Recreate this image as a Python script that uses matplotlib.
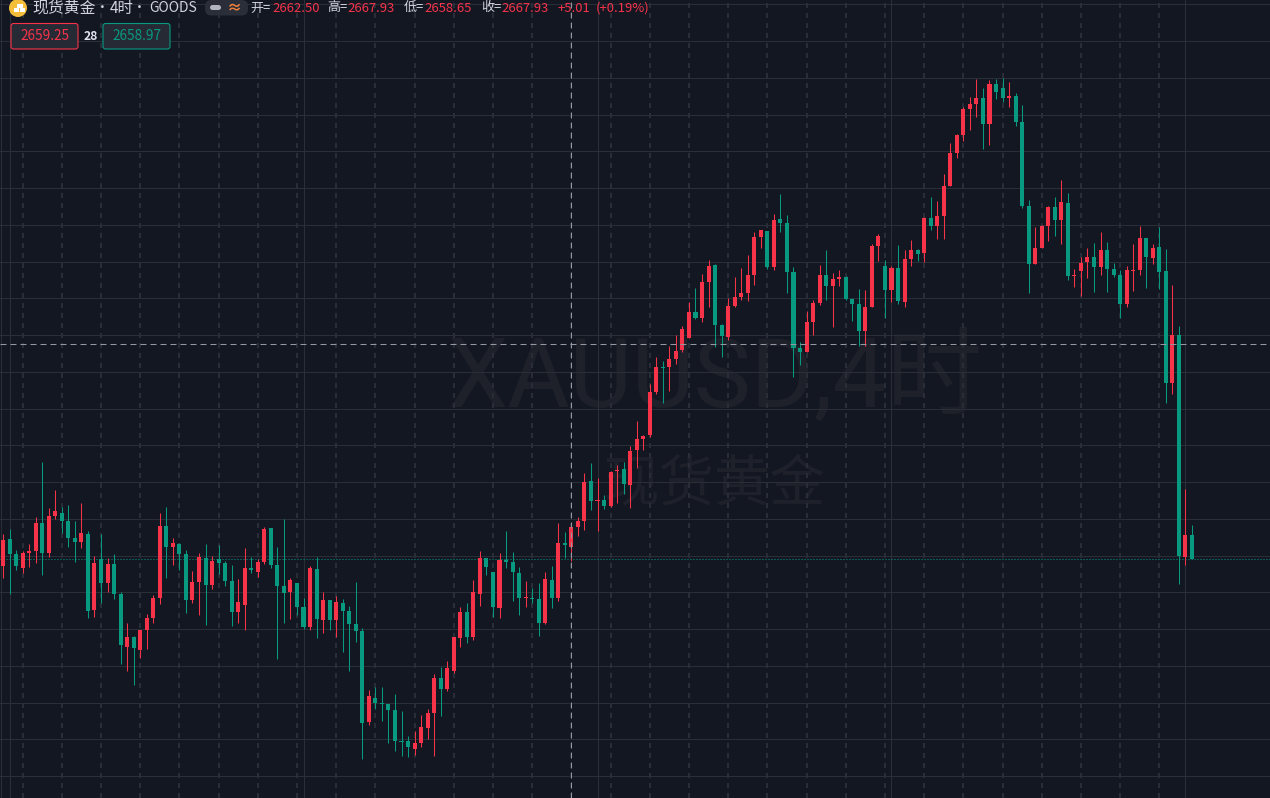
import matplotlib
matplotlib.use('Agg')
import matplotlib.pyplot as plt
from matplotlib.patches import Ellipse, FancyBboxPatch, Rectangle
import numpy as np

plt.rcParams['font.family'] = ['Noto Sans CJK SC', 'DejaVu Sans']
plt.rcParams['lines.scale_dashes'] = False

opens = [2657.1,2664.6,2660.5,2656.7,2660.8,2661.3,2668.9,2660.8,2670.8,2671.7,
         2669.5,2664.9,2663.8,2665.9,2645.3,2659.0,2652.6,2657.8,2649.6,2635.2,
         2637.9,2634.4,2639.8,2643.1,2648.5,2668.1,2662.4,2663.2,2660.5,2648.0,
         2652.9,2659.4,2652.1,2659.1,2658.1,2653.2,2644.7,2646.6,2656.7,2655.6,
         2658.3,2667.6,2657.5,2651.8,2650.2,2652.6,2646.0,2640.6,2656.4,2642.5,
         2648.0,2642.5,2647.1,2645.0,2641.4,2639.5,2614.8,2621.3,2619.9,2619.7,
         2618.0,2609.6,2609.6,2607.4,2609.0,2613.1,2617.2,2626.7,2623.7,2628.6,
         2637.6,2644.7,2637.9,2649.6,2659.4,2655.6,2645.8,2658.8,2658.3,2655.3,
         2648.5,2648.5,2648.2,2641.7,2653.4,2648.5,2663.5,2662.5,2667.9,2669.4,
         2680.3,2674.9,2675.2,2673.5,2683.0,2683.6,2679.2,2688.8,2691.8,2692.8,
         2704.5,2711.3,2711.3,2713.5,2716.0,2719.2,2726.3,2724.7,2734.5,2739.1,
         2722.8,2719.5,2727.9,2730.4,2731.5,2736.4,2746.7,2748.4,2738.6,2751.6,
         2750.5,2737.2,2716.5,2715.4,2723.6,2728.8,2736.4,2733.4,2735.3,2735.8,
         2729.9,2728.5,2721.1,2727.7,2744.3,2738.8,2732.3,2738.3,2729.0,2740.7,
         2743.2,2742.4,2751.9,2749.7,2752.4,2760.6,2769.6,2774.5,2781.6,2782.9,
         2784.5,2777.5,2788.4,2787.3,2784.5,2785.1,2778.0,2755.2,2739.4,2743.7,
         2749.7,2754.9,2751.3,2756.0,2736.1,2737.5,2739.9,2741.3,2738.6,2743.2,
         2738.0,2736.4,2728.5,2737.5,2737.7,2746.4,2741.0,2744.0,2737.5,2707.0,
         2720.1,2659.7,2665.6]
highs = [2665.9,2667.3,2661.6,2661.3,2663.2,2670.6,2685.5,2673.0,2677.9,2673.3,
         2673.8,2669.5,2674.4,2666.8,2660.0,2665.9,2659.4,2660.5,2650.2,2641.7,
         2638.2,2639.8,2644.2,2649.3,2671.7,2673.3,2664.9,2663.5,2661.6,2655.9,
         2660.8,2663.2,2660.0,2663.0,2658.6,2657.5,2653.7,2662.1,2659.7,2659.1,
         2667.8,2667.6,2662.4,2670.0,2654.0,2652.6,2648.5,2657.2,2659.6,2650.1,
         2648.0,2649.0,2648.2,2646.3,2652.8,2640.3,2623.5,2624.3,2624.3,2619.7,
         2622.4,2617.8,2610.9,2612.3,2616.7,2618.3,2627.8,2629.7,2631.4,2637.9,
         2646.1,2647.1,2653.4,2661.3,2659.4,2655.6,2660.7,2666.7,2661.0,2656.9,
         2653.1,2651.2,2652.6,2655.6,2657.2,2668.9,2666.5,2667.93,2670.5,2682.5,
         2685.2,2681.1,2676.5,2683.0,2684.7,2685.5,2689.9,2696.7,2692.8,2706.7,
         2714.1,2713.0,2717.1,2720.1,2722.5,2729.0,2732.8,2736.7,2740.5,2739.4,
         2723.1,2730.1,2735.8,2738.3,2741.8,2748.1,2748.6,2748.4,2753.0,2758.4,
         2752.7,2738.6,2718.2,2726.6,2729.6,2739.1,2743.2,2736.9,2737.7,2736.1,
         2730.1,2732.6,2732.3,2744.8,2747.5,2740.5,2738.8,2744.5,2743.2,2745.9,
         2743.5,2752.2,2757.6,2756.5,2763.9,2772.3,2774.8,2782.1,2784.8,2789.7,
         2787.3,2789.4,2789.7,2790.0,2788.9,2785.9,2782.6,2756.8,2749.4,2750.0,
         2755.2,2757.6,2762.2,2758.7,2738.0,2741.3,2743.7,2745.1,2748.1,2745.4,
         2739.6,2737.7,2738.8,2744.8,2749.7,2746.4,2744.8,2749.4,2743.5,2733.7,
         2722.5,2678.2,2668.4]
lows = [2654.0,2649.6,2656.1,2655.3,2657.0,2658.1,2654.8,2659.7,2670.0,2666.2,
        2662.4,2658.3,2662.1,2643.1,2643.4,2647.2,2650.2,2648.3,2630.6,2628.7,
        2624.9,2632.2,2634.7,2641.7,2646.9,2654.0,2657.5,2656.1,2644.4,2647.2,
        2643.9,2641.2,2651.0,2655.1,2651.8,2640.9,2641.7,2639.8,2655.3,2654.2,
        2657.8,2656.7,2631.9,2641.7,2642.8,2643.9,2640.1,2639.8,2637.6,2639.0,
        2639.8,2637.9,2633.8,2628.6,2636.5,2604.7,2613.9,2618.3,2615.0,2609.0,
        2606.9,2605.5,2605.2,2605.8,2608.0,2610.1,2605.5,2616.4,2623.2,2628.1,
        2635.2,2636.3,2637.1,2646.3,2654.8,2643.3,2643.1,2656.7,2647.7,2643.9,
        2646.0,2647.1,2638.2,2641.4,2645.8,2647.7,2659.4,2658.65,2665.4,2667.0,
        2672.4,2666.7,2672.7,2673.2,2674.3,2676.8,2673.0,2683.9,2688.8,2692.3,
        2704.0,2701.6,2704.8,2712.2,2715.4,2719.2,2724.4,2723.6,2727.7,2716.8,
        2714.1,2718.7,2727.7,2729.6,2729.3,2733.7,2743.7,2738.0,2737.7,2748.1,
        2731.5,2708.6,2711.9,2715.4,2720.1,2728.2,2729.6,2722.2,2733.4,2729.6,
        2723.9,2717.1,2717.1,2727.7,2740.2,2724.7,2729.0,2728.5,2727.7,2738.8,
        2740.2,2739.9,2748.6,2746.2,2746.2,2760.6,2768.2,2772.8,2775.8,2779.4,
        2770.7,2771.8,2784.3,2783.5,2782.1,2776.9,2754.6,2731.5,2739.4,2743.7,
        2745.6,2747.0,2744.8,2735.0,2733.1,2730.7,2735.6,2731.8,2736.4,2731.8,
        2735.8,2724.7,2727.7,2732.0,2736.4,2732.8,2739.4,2732.6,2701.6,2704.0,
        2652.3,2657.5,2658.97]
closes = [2664.3,2660.5,2657.2,2660.8,2661.3,2668.9,2660.8,2670.8,2672.2,2669.5,
          2664.9,2663.8,2666.2,2645.0,2658.1,2652.6,2657.8,2649.6,2635.7,2637.9,
          2634.9,2639.8,2643.1,2648.5,2668.1,2662.4,2663.5,2660.5,2648.0,2652.9,
          2659.7,2652.1,2658.6,2658.1,2653.2,2644.7,2647.4,2656.7,2656.1,2658.3,
          2667.3,2657.5,2651.8,2649.9,2653.4,2646.1,2640.6,2656.7,2642.8,2648.0,
          2642.5,2647.4,2645.0,2641.4,2639.5,2614.5,2621.8,2619.9,2619.7,2618.0,
          2609.6,2609.3,2608.0,2609.0,2613.4,2617.2,2626.7,2623.7,2629.4,2637.9,
          2644.7,2637.9,2650.1,2659.4,2656.9,2646.0,2658.8,2658.3,2655.6,2648.5,
          2648.8,2648.2,2641.7,2653.7,2648.5,2663.5,2662.9,2667.93,2669.5,2680.0,
          2674.9,2675.2,2673.5,2682.8,2683.3,2679.5,2688.5,2691.8,2692.6,2704.5,
          2711.3,2711.1,2713.5,2715.7,2721.7,2726.3,2724.7,2734.5,2738.8,2722.8,
          2719.8,2727.9,2730.4,2731.5,2736.4,2746.7,2748.6,2738.6,2751.3,2750.5,
          2737.2,2716.5,2715.4,2723.6,2728.8,2736.4,2733.4,2735.3,2735.8,2729.9,
          2728.5,2721.1,2727.7,2744.3,2747.0,2732.3,2738.3,2729.3,2740.7,2743.2,
          2742.1,2751.9,2749.7,2752.4,2760.6,2769.6,2774.5,2781.6,2782.9,2784.5,
          2777.5,2788.4,2786.2,2784.5,2785.1,2778.0,2755.2,2739.4,2743.7,2749.7,
          2754.9,2751.3,2756.2,2736.1,2736.4,2739.6,2741.3,2738.6,2743.2,2738.0,
          2736.4,2728.5,2737.7,2737.7,2746.4,2741.3,2743.7,2737.2,2707.0,2720.1,
          2659.9,2665.6,2658.97]

price_levels = list(range(2600, 2820, 10))
day_bars = list(range(3, 178, 6))
week_bars = [1, 46, 91, 136, 181]
cross_bar = 87
cross_price = 2717.6
last_price = 2658.97

BG = '#131722'
GRID = '#2a2e37'
DASH = '#2a2e39'
RED = '#f7334a'
GREEN = '#089981'
TEXT = '#d1d4dc'
MARK = '#1e2129'
PANEL = '#262a35'

W, H = 1270, 798

fig = plt.figure(figsize=(12.7, 7.98), dpi=100, facecolor=BG)
ax = fig.add_axes([0, 0, 1, 1], facecolor=BG)
ax.set_xlim(-0.46, 193.94)
ax.set_ylim(2594.07, 2811.2)
ax.axis('off')


def px(x, y):
    return x / W, 1 - y / H


def label(x, y, s, color=TEXT, size=9.4, ha='left', va='center', zorder=8, **kw):
    fx, fy = px(x, y)
    ax.text(fx, fy, s, color=color, fontsize=size, transform=ax.transAxes,
            va=va, ha=ha, zorder=zorder, **kw)


def box(x0, y0, x1, y1, fc, ec='none', lw=0, r=0.002, zorder=7):
    ax.add_patch(FancyBboxPatch(px(x0, y1), (x1 - x0) / W, (y1 - y0) / H,
                                boxstyle=f'round,pad=0,rounding_size={r}', mutation_aspect=W / H,
                                transform=ax.transAxes, fc=fc, ec=ec, lw=lw, zorder=zorder))


# watermark
label(447, 407, 'XAUUSD,4时', color=MARK, size=69, va='baseline', zorder=0.5,
      family=['Roboto', 'Noto Sans CJK SC'])
label(604, 485, '现货黄金', color=MARK, size=40, zorder=0.5)

# grid
for p in price_levels:
    ax.axhline(p, color=GRID, lw=0.75, zorder=1)
for b in week_bars:
    ax.axvline(b, color=GRID, lw=0.75, zorder=1)
ax.axvline(-0.3, color=GRID, lw=0.75, zorder=1)
for b in day_bars:
    ax.axvline(b, color=DASH, lw=1.4, ls=(0, (3.6, 3.6)), zorder=1)

ax.axhline(last_price, color=GREEN, lw=0.75, ls=(0, (0.72, 1.44)), zorder=2)

# candles
bars = np.arange(len(opens))
o = np.array(opens)
h = np.array(highs)
l = np.array(lows)
c = np.array(closes)
colors = [RED if cc >= oo else GREEN for oo, cc in zip(o, c)]
ax.vlines(bars, l, h, colors=colors, lw=0.75, zorder=3)
body_low = np.minimum(o, c)
body_h = np.maximum(np.abs(c - o), 0.3)
ax.bar(bars, body_h, 0.62, bottom=body_low, color=colors, lw=0, zorder=4)

# crosshair
ax.axvline(cross_bar, color='#9598a1', lw=0.75, ls=(0, (4.3, 2.9)), zorder=5)
ax.axhline(cross_price, color='#9598a1', lw=0.75, ls=(0, (4.3, 2.9)), zorder=5)

# header
ax.add_patch(Ellipse(px(18, 8), 18 / W, 18 / H, transform=ax.transAxes, fc='#f4bd3a', ec='none', zorder=8))
for ix, iy, iw in [(16.5, 4.5, 6), (13.5, 8.5, 5), (19.5, 8.5, 5)]:
    fx, fy = px(ix, iy + 3)
    ax.add_patch(Rectangle((fx, fy), iw / W, 3 / H, transform=ax.transAxes, fc='white', ec='none', zorder=9))

label(32, 8, '现货黄金', size=11.4)
label(102.5, 8, '·', size=12, ha='center', family='Roboto', fontweight='bold')
label(110, 8, '4时', size=11)
label(139, 8, '·', size=12, ha='center', family='Roboto', fontweight='bold')
label(149, 8, 'GOODS', size=10)

box(205, 0, 248, 15.5, '#2a2e39', r=0.005)
box(210, 5, 221, 10, '#b2b5be', r=0.002, zorder=8)
label(235, 7, '≈', color='#f0803c', size=11, ha='center', fontweight='bold')

label(250, 8, '开=')
label(272, 8, '2662.50', color=RED)
label(327, 8, '高=')
label(347.5, 8, '2667.93', color=RED)
label(404, 8, '低=')
label(424, 8, '2658.65', color=RED)
label(481.5, 8, '收=')
label(501, 8, '2667.93', color=RED)
label(558, 8, '+5.01', color=RED)
label(596, 8, '(+0.19%)', color=RED)

# bid / ask boxes
for x0, x1, col, s in [(11, 78, RED, '2659.25'), (103, 170, GREEN, '2658.97')]:
    box(x0, 23.5, x1, 49, PANEL, ec=col, lw=0.8, r=0.002)
    label((x0 + x1) / 2, 36, s, color=col, ha='center', size=9.8)
label(90.5, 36, '28', ha='center', size=8.8, fontweight='bold', color='#e0e3eb')

fig.savefig('out.png', dpi=100, facecolor=BG)
